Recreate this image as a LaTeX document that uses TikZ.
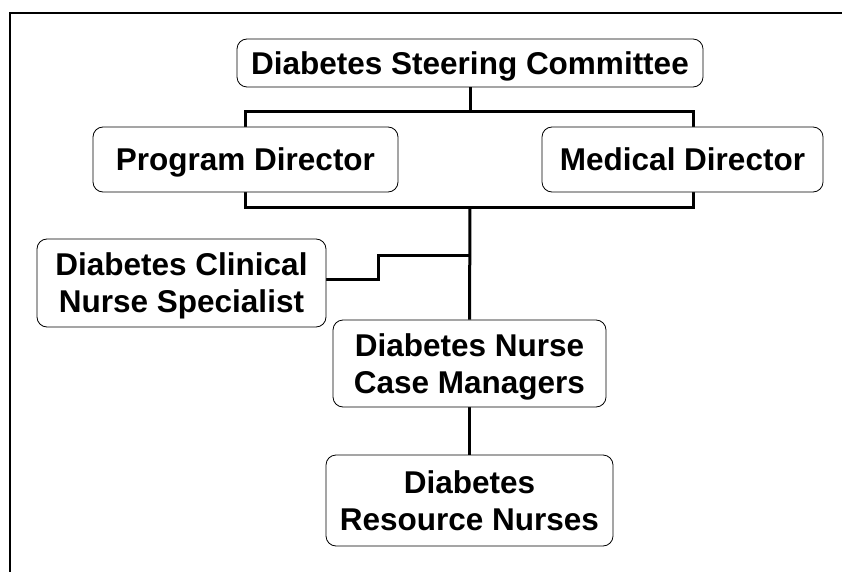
\documentclass[tikz,border=0pt]{standalone}
\usepackage{fontspec}
\setmainfont{Liberation Sans}
\usetikzlibrary{backgrounds}
\begin{document}
\begin{tikzpicture}[x=1pt,y=-1pt,
  box/.style={draw, line width=0.8pt, rounded corners=10pt, fill=white, align=center,
    font=\fontsize{31.5}{37}\selectfont\bfseries, inner sep=0pt, text depth=0pt},
  conn/.style={line width=3pt, line join=miter}]
\useasboundingbox (0,0) rectangle (842,572);
\draw[line width=2pt] (10,573) -- (10,13) -- (843,13);
\node[box, minimum width=466pt, minimum height=48pt] (top) at (470,63) {Diabetes Steering Committee};
\node[box, minimum width=305pt, minimum height=65pt] (pd) at (245.5,159.5) {Program Director};
\node[box, minimum width=281pt, minimum height=65pt] (md) at (682.5,159.5) {Medical Director};
\node[box, minimum width=289pt, minimum height=88pt] (cns) at (181.5,283) {Diabetes Clinical\\Nurse Specialist};
\node[box, minimum width=273pt, minimum height=87pt] (ncm) at (469.5,363.5) {Diabetes Nurse\\Case Managers};
\node[box, minimum width=287pt, minimum height=91pt] (rn) at (469.5,500.5) {Diabetes\\Resource Nurses};
\coordinate (bl) at (245,112);
\coordinate (br) at (693,112);
\coordinate (bbr) at (693,207);
\coordinate (bbl) at (245,207);
\coordinate (j) at (470,207);
\coordinate (k1) at (378,279);
\coordinate (k2) at (378,255);
\coordinate (k3) at (470,255);
\begin{scope}[on background layer]
\draw[conn] (bl) -- (br) -- (bbr) -- (bbl) -- cycle;
\draw[conn] (top.south) -- (top.south |- bl);
\draw[conn] (j) -- (ncm.north);
\draw[conn] (cns.east |- k1) -- (k1) -- (k2) -- (k3);
\draw[conn] (ncm.south) -- (rn.north);
\end{scope}
\end{tikzpicture}
\end{document}
